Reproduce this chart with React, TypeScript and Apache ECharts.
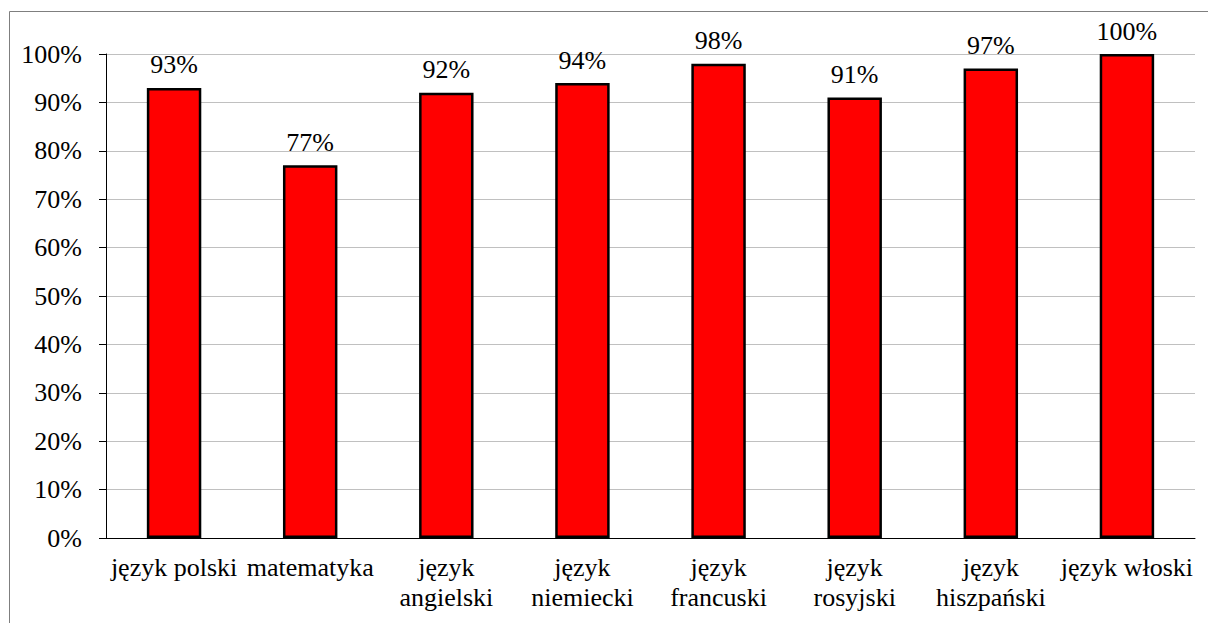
import React, { useEffect, useRef } from "react";
import * as echarts from "echarts";

const categories = [
  "język polski",
  "matematyka",
  "język\nangielski",
  "język\nniemiecki",
  "język\nfrancuski",
  "język\nrosyjski",
  "język\nhiszpański",
  "język włoski",
];
const values = [93, 77, 92, 94, 98, 91, 97, 100];
const FONT = "Liberation Serif";

export default function App() {
  const ref = useRef<HTMLDivElement>(null);
  useEffect(() => {
    if (!ref.current) return;
    const chart = echarts.init(ref.current, undefined, { renderer: "svg" });
    chart.setOption({
      animation: false,
      backgroundColor: "#ffffff",
      graphic: [
        {
          type: "rect",
          shape: { x: 9.5, y: 11.5, width: 1400, height: 800 },
          style: { fill: "none", stroke: "#7f7f7f", lineWidth: 1 },
          silent: true,
        },
        {
          type: "text",
          x: 600,
          y: 5,
          silent: true,
          style: { text: " ", font: "26px Liberation Serif", fill: "rgba(0,0,0,0)" },
        },
      ],
      grid: { left: 106, right: 13, top: 54, bottom: 85, containLabel: false },
      xAxis: {
        type: "category",
        data: categories,
        axisLine: { lineStyle: { color: "#000" } },
        axisTick: { length: 7, lineStyle: { color: "#000" } },
        axisLabel: { interval: 0, margin: 14, fontFamily: FONT, fontSize: 26, lineHeight: 30, color: "#000" },
      },
      yAxis: {
        type: "value",
        min: 0,
        max: 100,
        interval: 10,
        axisLine: { show: true, lineStyle: { color: "#000" } },
        axisTick: { show: true, length: 7, lineStyle: { color: "#000" } },
        splitLine: { lineStyle: { color: "#c0c0c0" } },
        axisLabel: { margin: 24, fontFamily: FONT, fontSize: 26, color: "#000", formatter: "{value}%" },
      },
      series: [
        {
          type: "bar",
          data: values,
          barWidth: "40%",
          itemStyle: { color: "#ff0000", borderColor: "#000", borderWidth: 2.5 },
          label: {
            show: true,
            position: "top",
            distance: 10,
            fontFamily: FONT,
            fontSize: 26,
            color: "#000",
            formatter: "{c}%",
          },
        },
      ],
    });
    return () => chart.dispose();
  }, []);
  return (
    <div
      ref={ref}
      style={{ position: "fixed", left: 0, top: 0, width: 1208, height: 623, background: "#fff" }}
    />
  );
}
